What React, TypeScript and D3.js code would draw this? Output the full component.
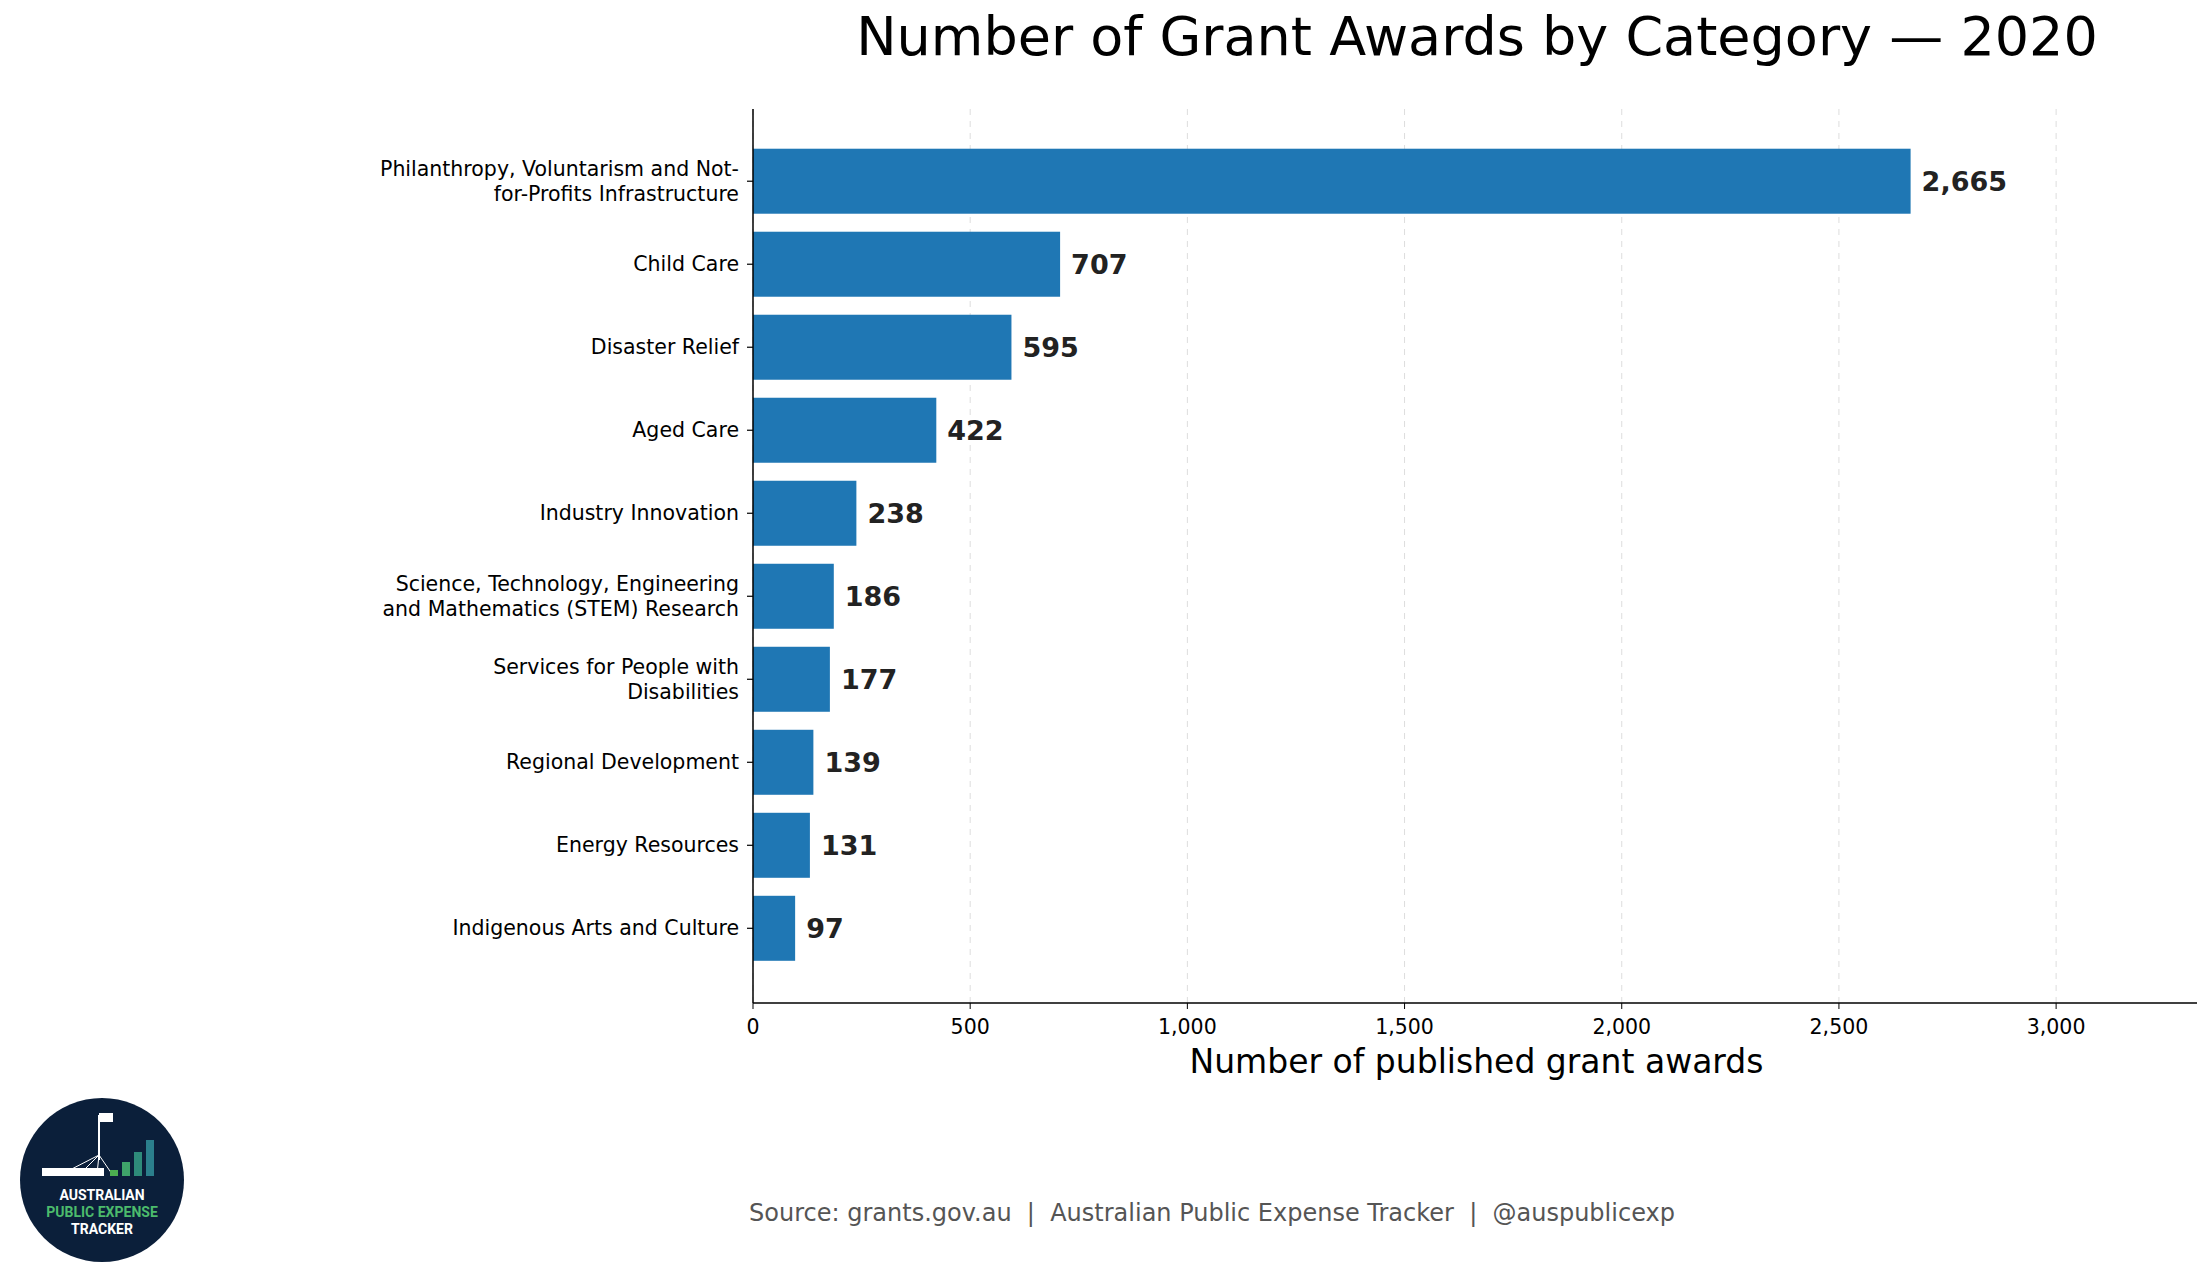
import React, { useEffect, useRef } from 'react';
import * as d3 from 'd3';

const categories = [
  ['Philanthropy, Voluntarism and Not-', 'for-Profits Infrastructure'],
  ['Child Care'],
  ['Disaster Relief'],
  ['Aged Care'],
  ['Industry Innovation'],
  ['Science, Technology, Engineering', 'and Mathematics (STEM) Research'],
  ['Services for People with', 'Disabilities'],
  ['Regional Development'],
  ['Energy Resources'],
  ['Indigenous Arts and Culture'],
];
const awards = [2665, 707, 595, 422, 238, 186, 177, 139, 131, 97];
const xTicks = [0, 500, 1000, 1500, 2000, 2500, 3000];

export default function App() {
  const ref = useRef<SVGSVGElement>(null);

  useEffect(() => {
    const svg = d3.select(ref.current!);
    svg.selectAll('*').remove();
    const left = 753, right = 2200, top = 109, bottom = 1003;
    const font = 'DejaVu Sans, sans-serif';

    const x = d3.scaleLinear().domain([0, 2665 * 1.25]).range([left, right]);
    const y = d3.scaleLinear().domain([-0.87, 9.9]).range([top, bottom]);
    const bh = 65;

    svg.append('text').attr('x', 1477).attr('y', 55).attr('text-anchor', 'middle')
      .attr('font-family', font).attr('font-size', 54).text('Number of Grant Awards by Category — 2020');

    // grid
    svg.selectAll('.grid').data(xTicks).enter().append('line')
      .attr('x1', (d) => x(d)).attr('x2', (d) => x(d)).attr('y1', top).attr('y2', bottom)
      .attr('stroke', '#ddd').attr('stroke-dasharray', '6,6').attr('stroke-width', 1);

    svg.selectAll('.bar').data(awards).enter().append('rect')
      .attr('x', x(0)).attr('y', (_, i) => y(i) - bh / 2)
      .attr('width', (d) => x(d) - x(0)).attr('height', bh).attr('fill', '#1f77b4');

    svg.selectAll('.val').data(awards).enter().append('text')
      .attr('x', (d) => x(d) + 11).attr('y', (_, i) => y(i)).attr('dy', '0.35em')
      .attr('font-family', font).attr('font-size', 27).attr('font-weight', 'bold').attr('fill', '#222')
      .text((d) => d3.format(',')(d));

    // y axis
    svg.append('line').attr('x1', left).attr('x2', left).attr('y1', top).attr('y2', bottom).attr('stroke', '#000').attr('stroke-width', 1.5);
    categories.forEach((lines, i) => {
      svg.append('line').attr('x1', left - 6).attr('x2', left).attr('y1', y(i)).attr('y2', y(i)).attr('stroke', '#000').attr('stroke-width', 1.2);
      const t = svg.append('text').attr('text-anchor', 'end').attr('font-family', font).attr('font-size', 20.5);
      lines.forEach((l, j) => {
        t.append('tspan').attr('x', left - 14)
          .attr('y', y(i) + (j - (lines.length - 1) / 2) * 25).attr('dy', '0.35em').text(l);
      });
    });

    // x axis
    svg.append('line').attr('x1', left).attr('x2', right).attr('y1', bottom).attr('y2', bottom).attr('stroke', '#000').attr('stroke-width', 1.5);
    xTicks.forEach((d) => {
      svg.append('line').attr('x1', x(d)).attr('x2', x(d)).attr('y1', bottom).attr('y2', bottom + 6).attr('stroke', '#000');
      svg.append('text').attr('x', x(d)).attr('y', bottom + 31).attr('text-anchor', 'middle')
        .attr('font-family', font).attr('font-size', 20.5).text(d3.format(',')(d));
    });
    svg.append('text').attr('x', (left + right) / 2).attr('y', 1073).attr('text-anchor', 'middle')
      .attr('font-family', font).attr('font-size', 33).text('Number of published grant awards');

    svg.append('text').attr('x', 1212).attr('y', 1221).attr('text-anchor', 'middle')
      .attr('font-family', font).attr('font-size', 24).attr('fill', '#555').style('white-space', 'pre')
      .text('Source: grants.gov.au  |  Australian Public Expense Tracker  |  @auspublicexp');

    // logo
    const g = svg.append('g').attr('transform', 'translate(102,1180)');
    g.append('circle').attr('r', 82).attr('fill', '#0b1f3a');
    g.append('line').attr('x1', -3).attr('x2', -3).attr('y1', -65).attr('y2', -20).attr('stroke', '#fff').attr('stroke-width', 2);
    g.append('rect').attr('x', -3).attr('y', -67).attr('width', 14).attr('height', 9).attr('fill', '#fff');
    [-40, -22, -5, 10].forEach((dx) => g.append('line').attr('x1', -3).attr('y1', -25).attr('x2', dx).attr('y2', -6).attr('stroke', '#fff'));
    g.append('rect').attr('x', -60).attr('y', -12).attr('width', 62).attr('height', 8).attr('fill', '#fff');
    [[8, 6, '#4caf50'], [20, 14, '#3fa46a'], [32, 24, '#2e8b7a'], [44, 36, '#2b7f8c']].forEach(([dx, h, c]) =>
      g.append('rect').attr('x', dx as number).attr('y', -4 - (h as number)).attr('width', 8).attr('height', h as number).attr('fill', c as string));
    const lt = [['AUSTRALIAN', '#fff', 20], ['PUBLIC EXPENSE', '#4cbb6c', 37], ['TRACKER', '#fff', 54]];
    lt.forEach(([s, c, dy]) => g.append('text').attr('y', dy as number).attr('text-anchor', 'middle')
      .attr('font-family', 'Roboto, sans-serif').attr('font-weight', 'bold').attr('font-size', 14).attr('fill', c as string).text(s as string));
  }, []);

  return <svg ref={ref} width={2205} height={1277} style={{ display: 'block', margin: -8 }} />;
}
